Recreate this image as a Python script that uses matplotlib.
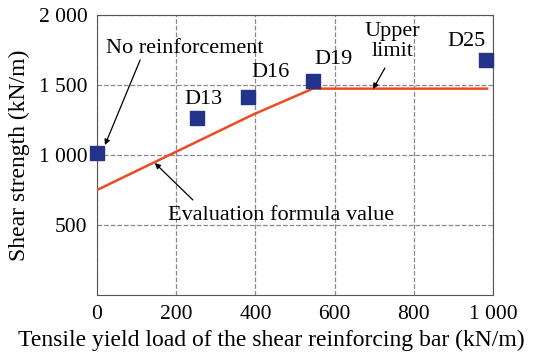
import matplotlib.pyplot as plt

# measured points
labels = ['No reinforcement', 'D13', 'D16', 'D19', 'D25']
load = [0, 252, 382, 545, 982]
strength = [1012, 1264, 1414, 1528, 1678]

# evaluation formula line
formula_x = [0, 395, 545, 985]
formula_y = [750, 1290, 1474, 1474]

xticks = [0, 200, 400, 600, 800, 1000]
xticklabels = ['0', '200', '400', '600', '800', '1 000']
yticks = [500, 1000, 1500, 2000]
yticklabels = ['500', '1 000', '1 500', '2 000']

plt.rcParams['font.family'] = 'Liberation Serif'
plt.rcParams['font.size'] = 16

fig = plt.figure(figsize=(5.54, 3.58), dpi=100)
ax = fig.add_axes([97 / 554, 63 / 358, 396 / 554, 280 / 358])

ax.plot(formula_x, formula_y, color='#f04a22', lw=1.8, zorder=3)
ax.scatter(load, strength, marker='s', s=90, color='#22338a', zorder=4, clip_on=False)

ax.set_xlim(0, 1000)
ax.set_ylim(0, 2000)
ax.set_xticks(xticks)
ax.set_xticklabels(xticklabels, fontsize=15.5)
ax.set_yticks(yticks)
ax.set_yticklabels(yticklabels, fontsize=15.5)
ax.tick_params(length=0, pad=7)
ax.grid(True, ls='--', color='#888888', lw=0.9)
for s in ax.spines.values():
    s.set_color('#555555')

ax.set_xlabel('Tensile yield load of the shear reinforcing bar (kN/m)', fontsize=17)
ax.xaxis.set_label_coords(0.44, -0.125)
ax.set_ylabel('Shear strength (kN/m)', fontsize=17, labelpad=6)

arrow = dict(arrowstyle='-|>', color='black', lw=0.9, mutation_scale=8, shrinkA=0, shrinkB=0)
ax.text(222, 1764, 'No reinforcement', ha='center', va='center')
ax.annotate('', xy=(20, 1071), xytext=(109, 1679), arrowprops=arrow)
ax.text(270, 1395, 'D13', ha='center', va='center')
ax.text(437, 1588, 'D16', ha='center', va='center')
ax.text(596, 1680, 'D19', ha='center', va='center')
ax.text(934, 1808, 'D25', ha='center', va='center')
ax.text(747, 1811, 'Upper\nlimit', ha='center', va='center', linespacing=1.05)
ax.annotate('', xy=(697, 1471), xytext=(727, 1621), arrowprops=arrow)
ax.text(465, 571, 'Evaluation formula value', ha='center', va='center')
ax.annotate('', xy=(146, 943), xytext=(242, 679), arrowprops=arrow)

fig.savefig('out.png')
